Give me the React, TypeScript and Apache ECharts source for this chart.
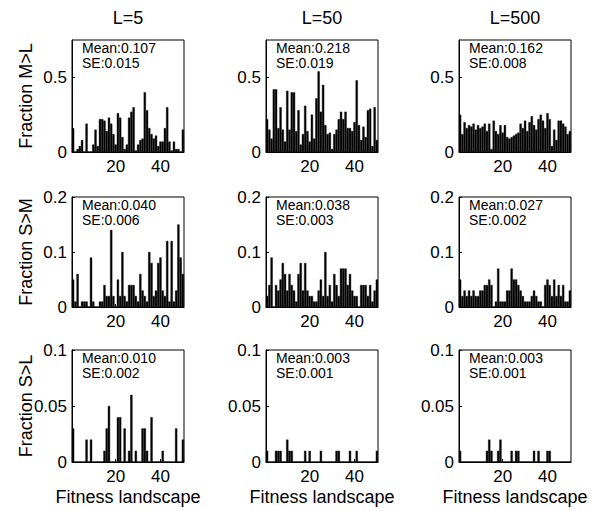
import React, { useEffect, useRef } from "react";
import * as echarts from "echarts";

const colTitles = ["L=5", "L=50", "L=500"];
const rowLabels = ["Fraction M>L", "Fraction S>M", "Fraction S>L"];
const xLabel = "Fitness landscape";
const landscapes = Array.from({ length: 50 }, (_, i) => String(i + 1));
const xTickLabels = ["20", "40"];

const rowMax = [0.75, 0.2, 0.1];
const rowTicks = [[0, 0.5], [0, 0.1, 0.2], [0, 0.05, 0.1]];

// Row 1: Fraction M>L
const mL_L5 = [0.16, 0, 0.02, 0.04, 0.08, 0, 0.19, 0, 0, 0.05, 0.15, 0.04, 0.22, 0.22, 0.21, 0.14, 0.23, 0.19, 0.12, 0.05, 0.26, 0.23, 0.10, 0.02, 0.05, 0.23, 0.27, 0.30, 0.01, 0.05, 0.08, 0.09, 0.40, 0.28, 0.16, 0.12, 0.09, 0.11, 0.04, 0.07, 0.07, 0.16, 0.30, 0.07, 0.01, 0.07, 0.02, 0.02, 0, 0.15];
const mL_L50 = [0.22, 0.15, 0.09, 0.42, 0.42, 0.16, 0.30, 0.15, 0.07, 0.41, 0.15, 0.40, 0.40, 0.14, 0.28, 0.05, 0.12, 0.31, 0.14, 0.07, 0.25, 0.09, 0.36, 0.54, 0.27, 0.45, 0.18, 0.12, 0.13, 0.02, 0.12, 0.15, 0.22, 0.27, 0.22, 0.27, 0.16, 0.16, 0.14, 0.20, 0.48, 0.18, 0.08, 0.17, 0.10, 0.28, 0.29, 0.04, 0.30, 0.08];
const mL_L500 = [0.25, 0.12, 0.20, 0.16, 0.18, 0.17, 0.19, 0.15, 0.18, 0.16, 0.17, 0.19, 0.14, 0.19, 0.02, 0.21, 0.14, 0.12, 0.18, 0.13, 0.18, 0.10, 0.09, 0.10, 0.11, 0.12, 0.13, 0.19, 0.16, 0.21, 0.14, 0.20, 0.24, 0.18, 0.15, 0.22, 0.25, 0.21, 0.16, 0.26, 0.22, 0.04, 0.15, 0.08, 0.21, 0.21, 0.19, 0.17, 0.12, 0.14];

// Row 2: Fraction S>M
const sM_L5 = [0.05, 0.01, 0.06, 0, 0.01, 0.01, 0.01, 0, 0.09, 0.01, 0, 0, 0.01, 0.01, 0.04, 0.02, 0.02, 0.14, 0.02, 0, 0.05, 0.02, 0.10, 0.02, 0.01, 0.04, 0.04, 0.04, 0.02, 0.01, 0.06, 0.03, 0.02, 0.01, 0.10, 0.08, 0.02, 0.03, 0.08, 0.09, 0.03, 0.02, 0.12, 0.01, 0.12, 0.01, 0.03, 0.15, 0.09, 0.06];
const sM_L50 = [0.02, 0.04, 0.09, 0, 0.04, 0.03, 0.05, 0.08, 0.06, 0.03, 0.06, 0.04, 0.03, 0.01, 0.06, 0.08, 0.03, 0.08, 0.03, 0.02, 0.02, 0.01, 0.01, 0.03, 0.05, 0.02, 0.10, 0.02, 0.04, 0.01, 0.06, 0.04, 0.02, 0.07, 0.07, 0.07, 0.04, 0.06, 0.03, 0.02, 0.02, 0, 0.04, 0.04, 0.04, 0.02, 0.04, 0.01, 0.03, 0.05];
const sM_L500 = [0.05, 0.02, 0.03, 0.02, 0.03, 0.02, 0.03, 0.02, 0.02, 0.03, 0.03, 0.04, 0.04, 0.05, 0.04, 0, 0.01, 0.07, 0.01, 0.01, 0.01, 0.03, 0.03, 0.07, 0.05, 0.05, 0.04, 0.03, 0.02, 0.01, 0.01, 0.01, 0.02, 0.03, 0.02, 0.01, 0.01, 0, 0.04, 0.05, 0.04, 0.02, 0.05, 0.02, 0.04, 0.02, 0.04, 0.01, 0.01, 0.03];

// Row 3: Fraction S>L
const sL_L5 = [0.03, 0, 0, 0, 0, 0, 0.02, 0, 0.02, 0, 0, 0, 0, 0, 0.01, 0.03, 0.05, 0, 0, 0, 0.04, 0.04, 0, 0.03, 0, 0.01, 0.06, 0, 0.01, 0, 0, 0.03, 0.03, 0.01, 0, 0.04, 0, 0, 0, 0, 0.01, 0, 0, 0, 0, 0, 0.03, 0, 0, 0.02];
const sL_L50 = [0.01, 0, 0, 0, 0.01, 0.01, 0.01, 0, 0, 0.02, 0.01, 0.01, 0, 0, 0, 0, 0, 0.01, 0, 0.01, 0, 0, 0, 0, 0.01, 0, 0, 0, 0, 0, 0, 0.01, 0.01, 0, 0, 0, 0, 0.01, 0, 0, 0.01, 0, 0, 0, 0, 0, 0, 0, 0, 0.01];
const sL_L500 = [0.01, 0, 0, 0, 0, 0, 0, 0, 0, 0, 0, 0, 0.01, 0.02, 0.01, 0, 0, 0.01, 0.02, 0, 0, 0, 0, 0.01, 0, 0.01, 0.01, 0, 0, 0, 0, 0, 0, 0.01, 0, 0.01, 0, 0, 0, 0.01, 0.01, 0, 0, 0, 0, 0, 0, 0, 0, 0];

const panelData = [
  [mL_L5, mL_L50, mL_L500],
  [sM_L5, sM_L50, sM_L500],
  [sL_L5, sL_L50, sL_L500],
];
const means = [
  ["0.107", "0.218", "0.162"],
  ["0.040", "0.038", "0.027"],
  ["0.010", "0.003", "0.003"],
];
const ses = [
  ["0.015", "0.019", "0.008"],
  ["0.006", "0.003", "0.002"],
  ["0.002", "0.001", "0.001"],
];

const FONT = "Liberation Sans, Arial, Helvetica, sans-serif";

export default function App() {
  const ref = useRef<HTMLDivElement>(null);
  useEffect(() => {
    if (!ref.current) return;
    const chart = echarts.init(ref.current, undefined, { renderer: "svg" });
    const lefts = [72, 266, 459];
    const width = 112;
    const tops = [40, 197, 350];
    const heights = [112, 110, 112];

    const grids: any[] = [];
    const xAxes: any[] = [];
    const yAxes: any[] = [];
    const series: any[] = [];
    const graphics: any[] = [];
    const showIdx = (i: number) => xTickLabels.includes(landscapes[i]);

    for (let r = 0; r < 3; r++) {
      for (let c = 0; c < 3; c++) {
        const k = r * 3 + c;
        grids.push({
          left: lefts[c],
          top: tops[r],
          width,
          height: heights[r],
          show: true,
          borderColor: "#000",
          borderWidth: 1,
          backgroundColor: "#fff",
        });
        xAxes.push({
          type: "category",
          gridIndex: k,
          data: landscapes,
          boundaryGap: true,
          axisLine: { show: true, lineStyle: { color: "#000", width: 1 } },
          axisTick: { show: true, inside: true, length: 3, alignWithLabel: true, interval: (i: number) => showIdx(i), lineStyle: { color: "#000" } },
          axisLabel: { interval: (i: number) => showIdx(i), fontSize: 17, color: "#000", margin: 6, fontFamily: FONT },
          splitLine: { show: false },
        });
        yAxes.push({
          type: "value",
          gridIndex: k,
          min: 0,
          max: rowMax[r],
          axisLine: { show: true, lineStyle: { color: "#000", width: 1 } },
          axisTick: { show: true, inside: true, length: 3, customValues: rowTicks[r], lineStyle: { color: "#000" } },
          axisLabel: { customValues: rowTicks[r], fontSize: 17, color: "#000", margin: 5, fontFamily: FONT, formatter: (v: number) => String(v) },
          splitLine: { show: false },
        });
        series.push({
          type: "bar",
          xAxisIndex: k,
          yAxisIndex: k,
          data: panelData[r][c],
          barCategoryGap: "0%",
          itemStyle: { color: "#000", borderColor: "#000", borderWidth: 0.4 },
          silent: true,
        });
        graphics.push({
          type: "text",
          left: lefts[c] + 10,
          top: tops[r] + 1,
          style: { text: "Mean:" + means[r][c], fontSize: 14, fill: "#000", fontFamily: FONT },
        });
        graphics.push({
          type: "text",
          left: lefts[c] + 10,
          top: tops[r] + 16,
          style: { text: "SE:" + ses[r][c], fontSize: 14, fill: "#000", fontFamily: FONT },
        });
      }
    }
    for (let c = 0; c < 3; c++) {
      graphics.push({
        type: "text",
        x: lefts[c] + width / 2,
        y: 18,
        style: { text: colTitles[c], fontSize: 18, fill: "#000", fontFamily: FONT, align: "center", verticalAlign: "middle" },
      });
      graphics.push({
        type: "text",
        x: lefts[c] + width / 2,
        y: 497,
        style: { text: xLabel, fontSize: 18, fill: "#000", fontFamily: FONT, align: "center", verticalAlign: "middle" },
      });
    }
    for (let r = 0; r < 3; r++) {
      graphics.push({
        type: "text",
        x: 26,
        y: tops[r] + heights[r] / 2,
        rotation: Math.PI / 2,
        style: { text: rowLabels[r], fontSize: 18, fill: "#000", fontFamily: FONT, align: "center", verticalAlign: "middle" },
      });
    }

    chart.setOption({
      animation: false,
      backgroundColor: "#fff",
      grid: grids,
      xAxis: xAxes,
      yAxis: yAxes,
      series,
      graphic: graphics,
    });
    return () => chart.dispose();
  }, []);
  return <div ref={ref} style={{ position: "fixed", left: 0, top: 0, width: 600, height: 511 }} />;
}
